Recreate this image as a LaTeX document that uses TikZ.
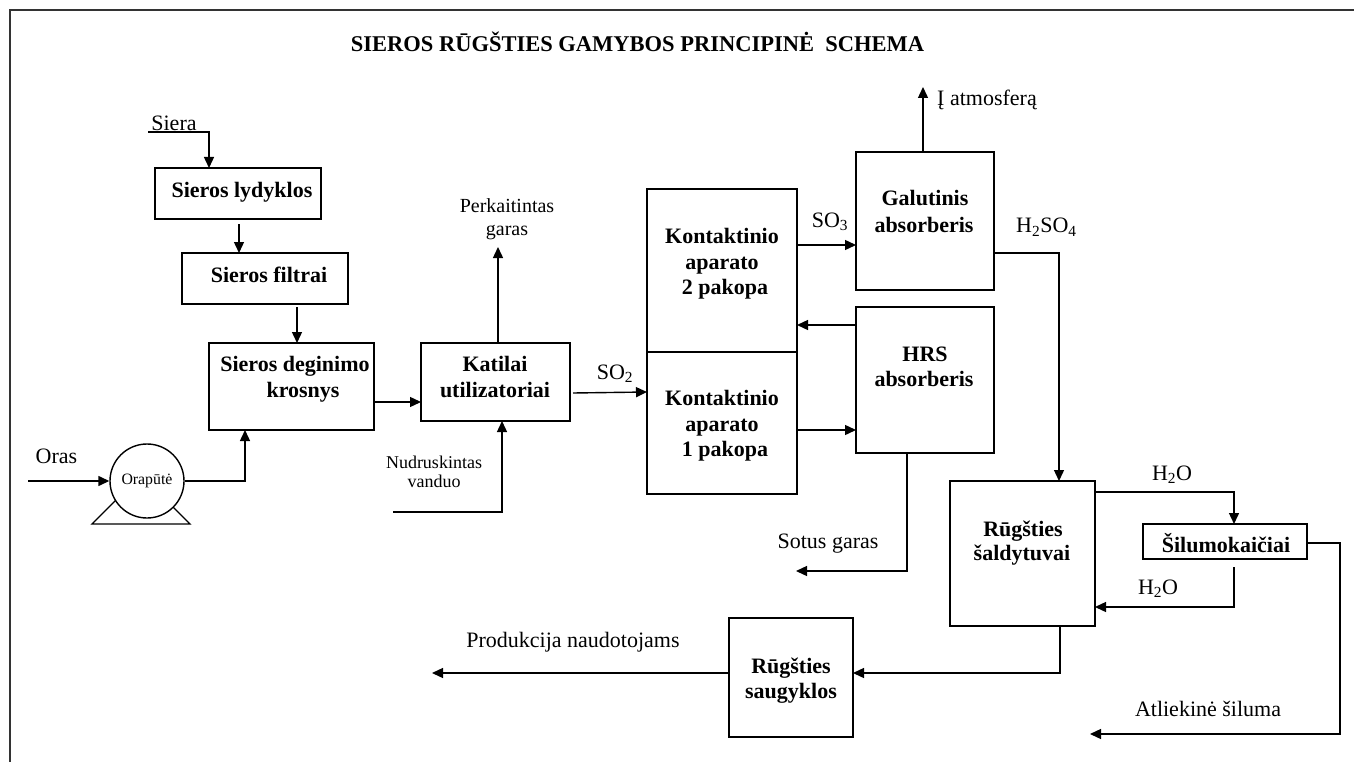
\documentclass[tikz,border=0pt]{standalone}
\usepackage{fontspec}
\setmainfont{Liberation Serif}
\usetikzlibrary{arrows.meta,calc}
\definecolor{framecol}{HTML}{333333}
\begin{document}
\begin{tikzpicture}[x=1pt,y=-1pt,
  box/.style={draw, line width=1.4pt, inner sep=0pt, outer sep=0pt},
  arr/.style={line width=1.4pt, -{Triangle[length=11pt,width=10pt]}},
  ln/.style={line width=1.4pt},
  bt/.style={font=\fontsize{22}{26}\selectfont\bfseries, anchor=base, inner sep=0pt},
  lt/.style={font=\fontsize{22}{26}\selectfont, anchor=base, inner sep=0pt},
  st/.style={font=\fontsize{20}{22}\selectfont, anchor=base, inner sep=0pt},
  nt/.style={font=\fontsize{18}{20}\selectfont, anchor=base, inner sep=0pt},
]
\useasboundingbox (0,0) rectangle (1354,762);
\fill[white] (0,0) rectangle (1354,762);
% frame
\draw[line width=2.3pt, framecol] (10,762) -- (10,10) -- (1354,10);
% title
\node[font=\fontsize{22.5}{26}\selectfont\bfseries, anchor=base, inner sep=0pt] (title) at (637.5,52) {SIEROS RŪGŠTIES GAMYBOS PRINCIPINĖ\ \ SCHEMA};

% boxes
\node[box, minimum width=166pt, minimum height=51pt] (lyd) at (238,193.5) {};
\node[box, minimum width=166pt, minimum height=51pt] (filt) at (265,278.5) {};
\node[box, minimum width=165pt, minimum height=87pt] (deg) at (291.5,386.5) {};
\node[box, minimum width=149pt, minimum height=78pt] (kat) at (495.5,382) {};
\node[box, minimum width=150pt, minimum height=163pt] (k2) at (722,270.5) {};
\node[box, minimum width=150pt, minimum height=142pt] (k1) at (722,423) {};
\node[box, minimum width=138pt, minimum height=138pt] (gal) at (925,221) {};
\node[box, minimum width=138pt, minimum height=146pt] (hrs) at (925,380) {};
\node[box, minimum width=145pt, minimum height=145pt] (sald) at (1022.5,553.5) {};
\node[box, minimum width=164pt, minimum height=35pt] (silu) at (1225,541.5) {};
\node[box, minimum width=124pt, minimum height=119pt] (saug) at (791,677.5) {};

% box texts
\node[bt] (lydT) at (242,197) {Sieros lydyklos};
\node[bt] (filtT) at (269,282) {Sieros filtrai};
\node[bt] (degT1) at (295,371) {Sieros deginimo};
\node[bt] (degT2) at (303,397) {krosnys};
\node[bt] (katT1) at (495,371) {Katilai};
\node[bt] (katT2) at (495,397) {utilizatoriai};
\node[bt] (k2T1) at (722,243) {Kontaktinio};
\node[bt] (k2T2) at (722,269) {aparato};
\node[bt] (k2T3) at (725,294) {2 pakopa};
\node[bt] (k1T1) at (722,405) {Kontaktinio};
\node[bt] (k1T2) at (722,431) {aparato};
\node[bt] (k1T3) at (725,456) {1 pakopa};
\node[bt] (galT1) at (925,206) {Galutinis};
\node[bt] (galT2) at (924,232) {absorberis};
\node[bt] (hrsT1) at (925,361) {HRS};
\node[bt] (hrsT2) at (924,386) {absorberis};
\node[bt] (saldT1) at (1023,536) {Rūgšties};
\node[bt] (saldT2) at (1022,560) {šaldytuvai};
\node[bt] (siluT) at (1226,552) {Šilumokaičiai};
\node[bt] (saugT1) at (791,673) {Rūgšties};
\node[bt] (saugT2) at (791,698) {saugyklos};

% pump
\draw[ln] (92,524) -- (190,524) -- (141,475) -- cycle;
\node[draw, circle, line width=1.4pt, fill=white, minimum size=74pt, inner sep=0pt,
      font=\fontsize{15.8}{18}\selectfont] (pump) at (147,481) {Orapūtė};

% coordinates for free ends
\coordinate (sieraS) at (148,132);
\coordinate (orasS) at (28,481);
\coordinate (perkE) at (498,247);
\coordinate (nudS) at (393,512);
\coordinate (atmE) at (923,87);
\coordinate (sotE) at (796,571);
\coordinate (atlE) at (1090,734);
\coordinate (prodE) at (432,673);

% connectors
\draw[arr] (sieraS) -| ($(lyd.north west)+(54,0)$);
\draw[arr] ($(lyd.south west)+(84,5)$) -- ($(filt.north west)+(57,0)$);
\draw[arr] ($(filt.south west)+(115,3)$) -- ($(deg.north west)+(88,0)$);
\draw[arr] ($(deg.south east)+(0,-28)$) -- ($(kat.south west)+(0,-19)$);
\draw[arr] (orasS) -- (pump.west);
\draw[arr] (pump.east) -| ($(deg.south west)+(36,0)$);
\draw[arr] ($(kat.north)+(2.5,0)$) -- (perkE);
\draw[arr] (nudS) -| ($(kat.south)+(6.5,0)$);
\draw[arr] ($(kat.south east)+(3,-28)$) -- ($(k1.north west)+(0,40)$);
\draw[arr] ($(k2.north east)+(0,56)$) -- ($(gal.north west)+(0,93)$);
\draw[arr] ($(hrs.north west)+(0,18)$) -- ($(k2.south east)+(0,-27)$);
\draw[arr] ($(k1.north east)+(0,78)$) -- ($(hrs.north west)+(0,123)$);
\draw[arr] ($(gal.north)+(-2,0)$) -- (atmE);
\draw[arr] ($(gal.north east)+(0,101)$) -| ($(sald.north west)+(109,0)$);
\draw[arr] ($(hrs.south west)+(51,0)$) |- (sotE);
\draw[arr] ($(sald.north east)+(0,11)$) -| ($(silu.north west)+(91,0)$);
\draw[arr] ($(silu.south west)+(91,8)$) |- ($(sald.north east)+(0,126)$);
\draw[arr] ($(silu.north east)+(0,19)$) -| ($(atlE)+(250,0)$) -- (atlE);
\draw[arr] ($(sald.south west)+(110,0)$) |- ($(saug.north east)+(0,55)$);
\draw[arr] ($(saug.north west)+(0,55)$) -- (prodE);

% labels
\node[lt] (sieraL) at (174,131) {Siera};
\node[lt] (orasL) at (56.5,463) {Oras};
\node[st] (perkL1) at (507,213) {Perkaitintas};
\node[st] (perkL2) at (507,235) {garas};
\node[nt] (nudL1) at (434,468) {Nudruskintas};
\node[nt] (nudL2) at (434,487) {vanduo};
\node[lt] (so2L) at (615,379) {SO\textsubscript{2}};
\node[lt] (so3L) at (830,227) {SO\textsubscript{3}};
\node[lt, anchor=base west] (atmL) at (937,106) {Į atmosferą};
\node[lt, anchor=base west] (h2so4L) at (1016,233) {H\textsubscript{2}SO\textsubscript{4}};
\node[lt] (sotL) at (828,548) {Sotus garas};
\node[lt] (h2oL1) at (1172,480) {H\textsubscript{2}O};
\node[lt] (h2oL2) at (1158,594) {H\textsubscript{2}O};
\node[lt] (atlL) at (1208,716) {Atliekinė šiluma};
\node[lt] (prodL) at (573,647) {Produkcija naudotojams};
\end{tikzpicture}
\end{document}
